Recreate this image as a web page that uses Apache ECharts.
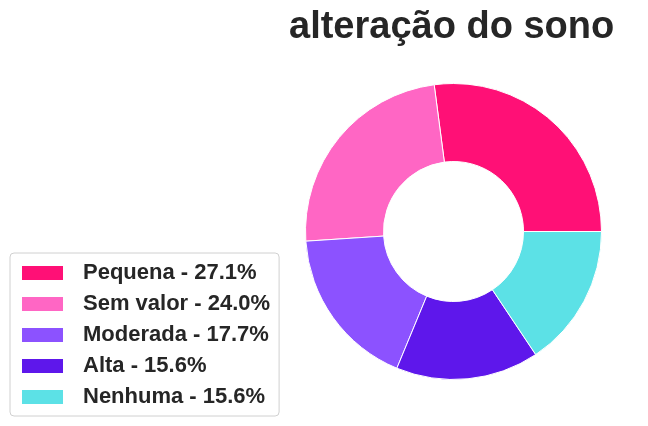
<!DOCTYPE html>
<html>
<head>
<meta charset="utf-8">
<script src="https://cdn.jsdelivr.net/npm/echarts@6/dist/echarts.min.js"></script>
<style>html,body{margin:0;padding:0;background:#fff}#c{width:648px;height:426px}</style>
</head>
<body>
<div id="c"></div>
<script>
const categories = ['Pequena', 'Sem valor', 'Moderada', 'Alta', 'Nenhuma'];
const counts = [26, 23, 17, 15, 15];
const colors = ['#FF1076', '#FF66C4', '#8C52FF', '#5E17EB', '#5CE1E6'];
const titleText = 'alteração do sono';

const total = counts.reduce((a, b) => a + b, 0);
const pctMap = {};
categories.forEach((c, i) => { pctMap[c] = (counts[i] / total * 100).toFixed(1); });

const chart = echarts.init(document.getElementById('c'), null, {renderer: 'canvas'});
chart.setOption({
  animation: false,
  title: {
    text: titleText,
    left: 284, top: 4,
    textStyle: {fontFamily: 'Liberation Sans, Arial, sans-serif', fontWeight: 'bold', fontSize: 38, color: '#262626'}
  },
  legend: {
    orient: 'vertical',
    left: 10, top: 253,
    padding: [9, 9, 8, 10],
    borderColor: '#d0d0d0', borderWidth: 1, borderRadius: 4,
    itemWidth: 43, itemHeight: 16, itemGap: 9,
    icon: 'rect',
    data: categories,
    formatter: n => n + ' - ' + pctMap[n] + '%',
    textStyle: {fontFamily: 'Liberation Sans, Arial, sans-serif', fontWeight: 'bold', fontSize: 22, color: '#262626', lineHeight: 22, padding: [0, 0, 0, 14]}
  },
  series: [{
    type: 'pie',
    center: [453.5, 231.5],
    radius: [70, 148],
    startAngle: 0,
    clockwise: false,
    label: {show: false},
    labelLine: {show: false},
    emphasis: {disabled: true},
    itemStyle: {borderColor: '#fff', borderWidth: 1},
    data: categories.map((c, i) => ({name: c, value: counts[i], itemStyle: {color: colors[i]}}))
  }]
});
</script>
</body>
</html>
